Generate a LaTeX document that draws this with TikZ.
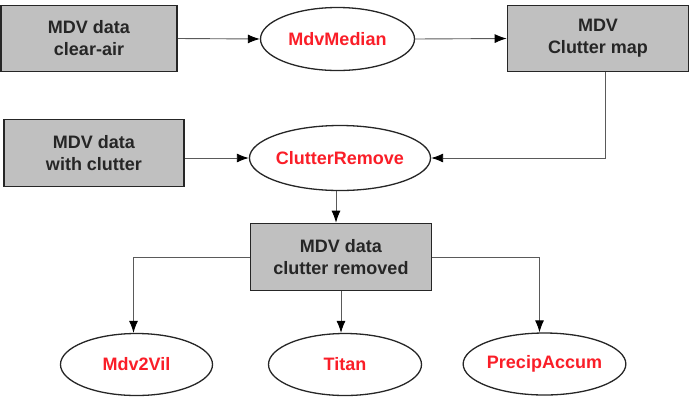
\documentclass[tikz,border=0pt]{standalone}
\usepackage{fontspec}
\setmainfont{Liberation Sans}
\usetikzlibrary{shapes.geometric,arrows.meta}
\definecolor{boxgray}{RGB}{192,192,192}
\definecolor{txtred}{RGB}{250,30,40}
\definecolor{linegray}{RGB}{90,90,90}
\tikzset{
  databox/.style={draw=black!85,line width=1.6pt,fill=boxgray,rectangle,inner sep=0pt,
    align=center,font=\fontsize{18}{22}\selectfont\bfseries,text=black!85},
  proc/.style={draw=black!85,line width=1.3pt,fill=white,ellipse,inner sep=0pt,
    font=\fontsize{18}{22}\selectfont\bfseries,text=txtred},
  conn/.style={draw=linegray,line width=0.9pt,-{Latex[length=12pt,width=9pt]},
    arrows={-{Latex[length=12pt,width=9pt,color=black]}}}
}
\begin{document}
\begin{tikzpicture}[x=1pt,y=-1pt]
\useasboundingbox (0,0) rectangle (696,400);
\node[databox,minimum width=176pt,minimum height=66pt] (b1) at (89,38.5) {MDV data\\clear-air};
\node[proc,minimum width=154pt,minimum height=63pt] (med) at (337.5,39) {MdvMedian};
\node[databox,minimum width=181pt,minimum height=66pt] (map) at (598,38.5) {MDV\\Clutter map};
\node[databox,minimum width=180pt,minimum height=67pt] (b2) at (94,153) {MDV data\\with clutter};
\node[proc,minimum width=153pt,minimum height=65pt] (cr) at (340,158) {ClutterRemove};
\node[databox,minimum width=181pt,minimum height=67pt] (b3) at (341,257) {MDV data\\clutter removed};
\node[proc,minimum width=152pt,minimum height=62pt] (vil) at (136.5,364.5) {Mdv2Vil};
\node[proc,minimum width=153pt,minimum height=62pt] (titan) at (345,364.5) {Titan};
\node[proc,minimum width=154pt,minimum height=62pt] (pa) at (544.5,364) {PrecipAccum};
\draw[conn] (b1.east) -- (med.west);
\draw[conn] (med.east) -- (map.west);
\draw[conn] ([xshift=7pt]map.south) |- (cr.east);
\draw[conn] (b2.east |- cr.west) -- (cr.west);
\draw[conn] ([xshift=-4pt]cr.south) -- ([xshift=-4pt]cr.south |- b3.north);
\draw[conn] (b3.west) -| ([xshift=-3pt]vil.north);
\draw[conn] (b3.south) -- (b3.south |- titan.north);
\draw[conn] (b3.east) -| ([xshift=-5pt]pa.north);
\end{tikzpicture}
\end{document}
